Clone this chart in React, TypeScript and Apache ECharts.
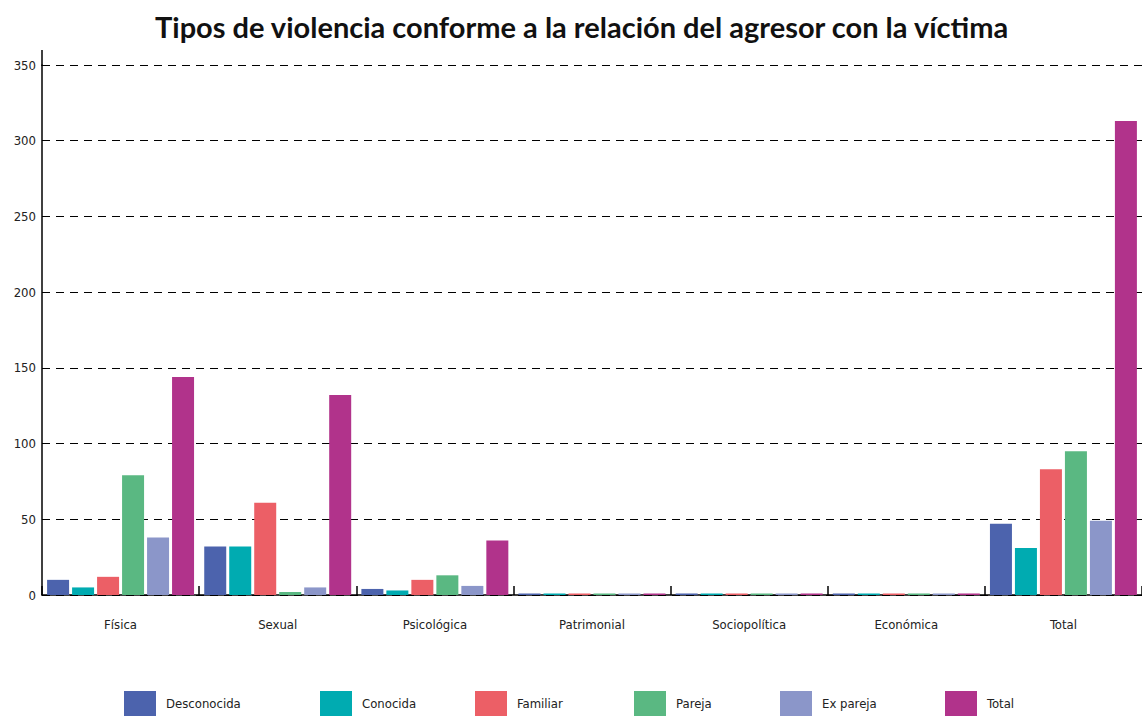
import React, { useEffect, useRef } from "react";
import * as echarts from "echarts";

const categories = ["Física", "Sexual", "Psicológica", "Patrimonial", "Sociopolítica", "Económica", "Total"];
const seriesNames = ["Desconocida", "Conocida", "Familiar", "Pareja", "Ex pareja", "Total"];
const desconocida = [10, 32, 4, 0, 1, 0, 47];
const conocida = [5, 32, 3, 0, 0, 0, 31];
const familiar = [12, 61, 10, 0, 0, 0, 83];
const pareja = [79, 2, 13, 0, 0, 1, 95];
const exPareja = [38, 5, 6, 0, 0, 0, 49];
const total = [144, 132, 36, 0, 1, 1, 313];
const colors = ["#4c63ad", "#00abb1", "#ec5f66", "#5ab882", "#8b96c9", "#b1338b"];
const legendLeft = [124, 320, 475, 634, 780, 945];

const labelFont = "'DejaVu Sans Condensed', 'Liberation Sans Narrow', sans-serif";

export default function App() {
  const ref = useRef<HTMLDivElement>(null);
  useEffect(() => {
    if (!ref.current) return;
    const chart = echarts.init(ref.current, null, { renderer: "svg" });
    const data = [desconocida, conocida, familiar, pareja, exPareja, total];
    chart.setOption({
      animation: false,
      backgroundColor: "#ffffff",
      title: {
        text: "Tipos de violencia conforme a la relación del agresor con la víctima",
        left: 150,
        top: 7,
        textStyle: { fontFamily: "Lato, 'Open Sans', sans-serif", fontWeight: "bold", fontSize: 29, color: "#111" },
      },
      legend: seriesNames.map((name, i) => ({
        data: [name],
        bottom: 1,
        left: legendLeft[i],
        padding: 0,
        itemWidth: 32,
        itemHeight: 25,
        itemGap: 0,
        icon: "rect",
        textStyle: { fontFamily: labelFont, fontSize: 13, color: "#222", padding: [14, 0, 0, 5] },
      })),
      grid: { left: 42, right: 0, top: 65, bottom: 122, containLabel: false },
      xAxis: {
        type: "category",
        data: categories,
        offset: 2,
        axisLine: { lineStyle: { color: "#000", width: 1.5 } },
        axisTick: { show: true, inside: true, length: 9, lineStyle: { color: "#000", width: 1.5 } },
        axisLabel: { margin: 21, fontFamily: labelFont, fontSize: 13, color: "#222" },
      },
      yAxis: {
        type: "value",
        min: 0,
        max: 350,
        interval: 50,
        axisLine: { show: true, lineStyle: { color: "#000", width: 1.5 } },
        axisTick: { show: false },
        axisLabel: { margin: 6, fontFamily: labelFont, fontSize: 13, color: "#222" },
        splitLine: { show: true, lineStyle: { color: "#000", type: [8, 6], width: 1 } },
      },
      graphic: [
        { type: "line", shape: { x1: 42, y1: 50, x2: 42, y2: 66 }, style: { stroke: "#000", lineWidth: 1.5 } },
      ],
      series: seriesNames.map((name, i) => ({
        name,
        type: "bar",
        data: data[i],
        barWidth: 22,
        barGap: "13.6%",
        barMinHeight: 1.5,
        itemStyle: { color: colors[i] },
      })),
    });
    return () => chart.dispose();
  }, []);
  return <div ref={ref} style={{ position: "fixed", left: 0, top: 0, width: 1142, height: 717 }} />;
}
